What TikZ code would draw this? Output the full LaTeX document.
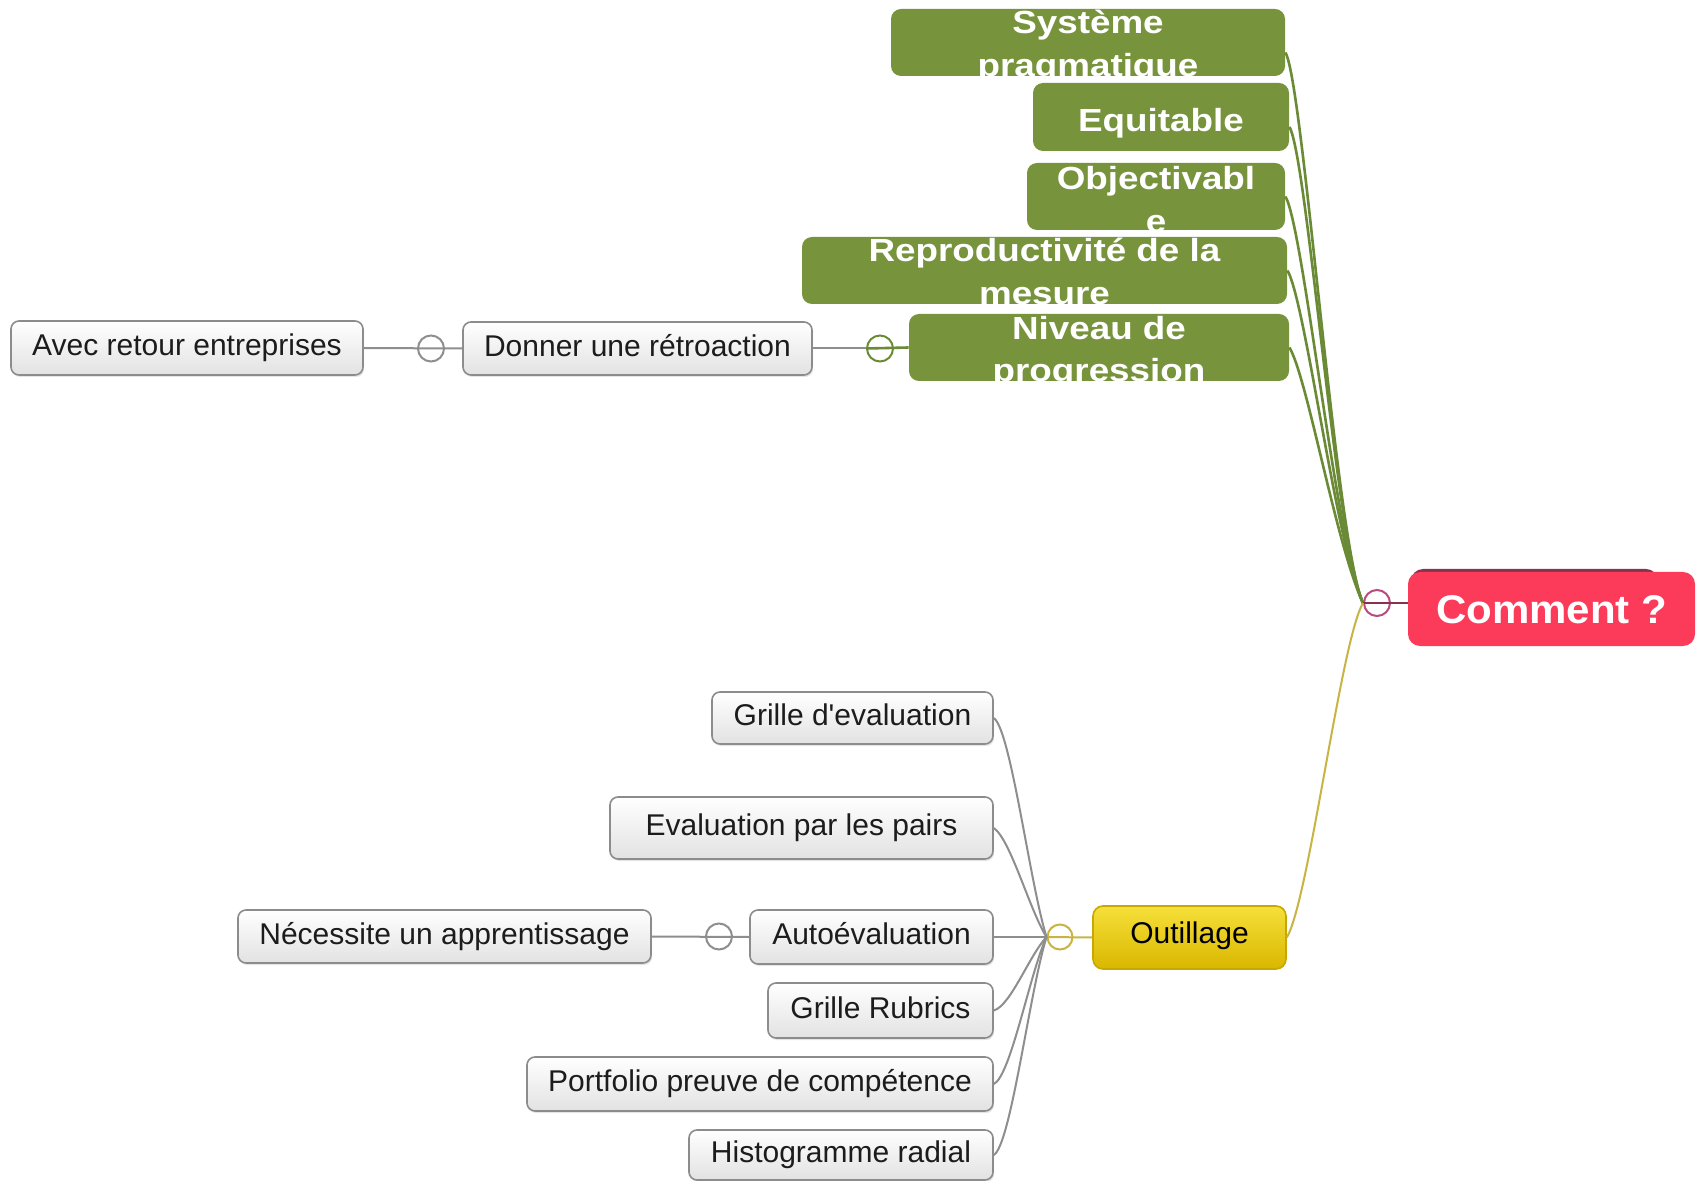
\documentclass[tikz,border=0pt]{standalone}
\usepackage{fontspec}
\setmainfont{Liberation Sans}
\newfontfamily\greyfont[Ligatures=TeXOff]{Liberation Sans}
\newfontfamily\gfont[FakeStretch=1.15]{Liberation Sans Bold}
\newfontfamily\cfont[FakeStretch=1.05]{Liberation Sans Bold}
\usetikzlibrary{shadows,fit,calc}
\definecolor{gfill}{HTML}{77933C}
\definecolor{gline}{HTML}{6B8A35}
\definecolor{greyline}{HTML}{8E8E8E}
\definecolor{boxedge}{HTML}{8C8C8C}
\definecolor{boxbot}{HTML}{E2E2E2}
\definecolor{txt}{HTML}{1C1C1C}
\definecolor{yline}{HTML}{C8B445}
\definecolor{ytop}{HTML}{F6E03A}
\definecolor{ybot}{HTML}{D9B700}
\definecolor{yedge}{HTML}{C7A800}
\definecolor{cfill}{HTML}{FC3B5B}
\definecolor{cshade}{HTML}{8A3050}
\definecolor{pinkc}{HTML}{B84C7C}
\begin{document}
\begin{tikzpicture}[x=0.5pt,y=-0.5pt,
  graybox/.style={rounded corners=4pt, draw=boxedge, line width=0.8pt,
    top color=white, bottom color=boxbot, inner sep=0pt, text=txt,
    font=\greyfont\fontsize{15}{18}\selectfont, text height=10.75pt, text depth=3pt,
    drop shadow={shadow xshift=0.6pt, shadow yshift=-1pt, opacity=0.2}},
  greenbox/.style={rounded corners=5pt, fill=gfill, inner sep=0pt},
  gtext/.style={text=white, font=\gfont\fontsize{16}{20}\selectfont, anchor=base, inner sep=0pt},
  combox/.style={rounded corners=6pt, fill=cfill, inner sep=0pt, text=white,
    font=\cfont\fontsize{20}{24}\selectfont, text height=14.3pt, text depth=0pt},
  outbox/.style={rounded corners=5pt, draw=yedge, line width=0.8pt, top color=ytop,
    bottom color=ybot, inner sep=0pt, text=black,
    font=\greyfont\fontsize{15}{18}\selectfont, text height=10.75pt, text depth=5.25pt},
  knob/.style={circle, draw, line width=1pt, minimum size=13pt, inner sep=0pt},
  greyconn/.style={draw=greyline, line width=1pt},
  greenconn/.style={draw=gline, line width=1.3pt},
  yconn/.style={draw=yline, line width=1pt}
]
\fill[white] (0,0) rectangle (1697,1181);
\useasboundingbox (0,0) rectangle (1697,1181);

% ---------- green boxes ----------
\node[greenbox, fit={(891,9) (1285,76)}] (sys) {};
\begin{scope}
  \clip (891,9) rectangle (1285,79);
  \node[gtext] (sysA) at (1088,34) {Système};
  \node[gtext] (sysB) at (1088,77) {pragmatique};
\end{scope}

\node[greenbox, fit={(1033,83) (1289,151)}] (equ) {};
\node[gtext] (equA) at (1161,132) {Equitable};

\node[greenbox, fit={(1027,163) (1285,230)}] (obj) {};
\begin{scope}
  \clip (1027,163) rectangle (1285,233);
  \node[gtext] (objA) at (1156,190) {Objectivabl};
  \node[gtext] (objB) at (1156,233) {e};
\end{scope}

\node[greenbox, fit={(802,237) (1287,304)}] (rep) {};
\begin{scope}
  \clip (802,237) rectangle (1287,307);
  \node[gtext] (repA) at (1044.5,262) {Reproductivité de la};
  \node[gtext] (repB) at (1044.5,305) {mesure};
\end{scope}

\node[greenbox, fit={(909,314) (1289,381)}] (niv) {};
\begin{scope}
  \clip (909,314) rectangle (1289,384);
  \node[gtext] (nivA) at (1099,340) {Niveau de};
  \node[gtext] (nivB) at (1099,382) {progression};
\end{scope}

% ---------- central node ----------
\fill[cshade, rounded corners=6pt] (1411,569) rectangle (1658,600);
\node[combox, minimum width=143.5pt, minimum height=37pt] (com) at (1551.5,609) {Comment ?};
\node[knob, draw=pinkc] (ccom) at (1377,603) {};

% ---------- Outillage ----------
\node[outbox, minimum width=96.5pt, minimum height=31.5pt] (out) at (1189.5,937.5) {Outillage};
\node[knob, draw=yline, minimum size=12.5pt] (cout) at (1060,937) {};

% ---------- grey boxes ----------
\node[graybox, minimum width=176pt, minimum height=27pt] (avec) at (187,348) {Avec retour entreprises};
\node[graybox, minimum width=174.5pt, minimum height=26.5pt] (don) at (637.5,348.5) {Donner une rétroaction};
\node[knob, draw=greyline] (cavec) at (431,348.5) {};
\node[knob, draw=gline] (cniv) at (880,348.5) {};

\node[graybox, minimum width=140.5pt, minimum height=26pt] (gre) at (852.5,718) {Grille d'evaluation};
\node[graybox, minimum width=191.5pt, minimum height=31pt] (eva) at (801.5,828) {Evaluation par les pairs};
\node[graybox, minimum width=121.5pt, minimum height=27pt] (auto) at (871.5,937) {Autoévaluation};
\node[graybox, minimum width=206.5pt, minimum height=26.5pt] (nec) at (444.5,936.5) {Nécessite un apprentissage};
\node[knob, draw=greyline] (cauto) at (719,936.5) {};
\node[graybox, minimum width=112.5pt, minimum height=27.5pt] (rub) at (880.5,1010.5) {Grille Rubrics};
\node[graybox, minimum width=233pt, minimum height=27pt] (port) at (760,1084) {Portfolio preuve de compétence};
\node[graybox, minimum width=152pt, minimum height=25pt] (hist) at (841,1155) {Histogramme radial};

% ---------- connectors ----------
\draw[greyconn] (avec.east) -- (don.west);
\draw[greyconn] (don.east) -- (cniv.west);
\draw[greenconn] (cniv.west) -- (niv.west);
\draw[greyconn] (nec.east) -- (auto.west);

\draw[greenconn] ([yshift=-5pt]sys.east) .. controls +(18,30) and +(-27,-58) .. (ccom.west);
\draw[greenconn] ([yshift=-5pt]equ.east) .. controls +(18,30) and +(-27,-58) .. (ccom.west);
\draw[greenconn] (obj.east) .. controls +(18,30) and +(-27,-58) .. (ccom.west);
\draw[greenconn] (rep.east) .. controls +(18,30) and +(-27,-58) .. (ccom.west);
\draw[greenconn] (niv.east) .. controls +(18,30) and +(-27,-58) .. (ccom.west);
\draw[draw=cshade, line width=1pt] (ccom.west) -- (ccom.west -| com.west);

\draw[yconn] (ccom.west) .. controls +(-22,37) and +(22,-37) .. (out.east);
\draw[yconn] (cout.west) -- (out.west);

\draw[greyconn] (gre.east) .. controls +(17,12) and +(-17,-55) .. (cout.west);
\draw[greyconn] (eva.east) .. controls +(17,12) and +(-17,-27) .. (cout.west);
\draw[greyconn] (auto.east) -- (cout.west);
\draw[greyconn] (rub.east) .. controls +(17,-5) and +(-17,18) .. (cout.west);
\draw[greyconn] (port.east) .. controls +(17,-8) and +(-17,37) .. (cout.west);
\draw[greyconn] (hist.east) .. controls +(17,-10) and +(-17,55) .. (cout.west);
\end{tikzpicture}
\end{document}
